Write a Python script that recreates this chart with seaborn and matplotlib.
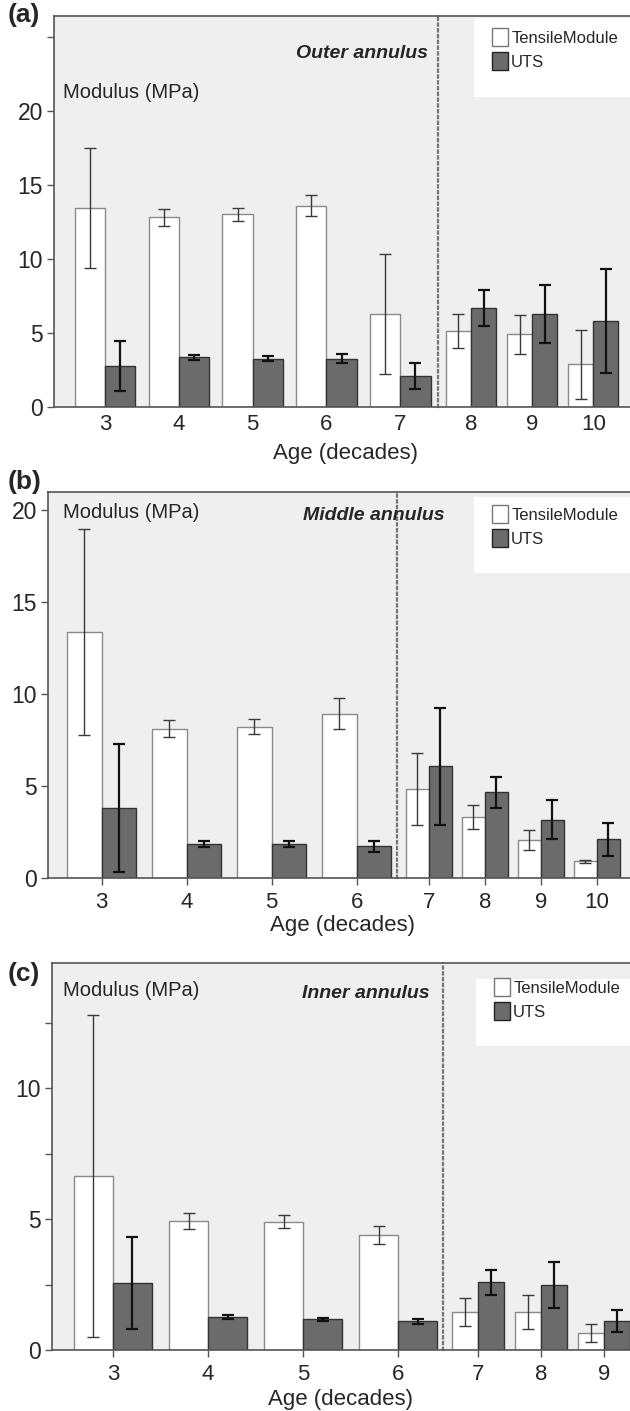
import matplotlib
matplotlib.use('Agg')
import pandas as pd
import matplotlib.pyplot as plt
from matplotlib.patches import Patch, Rectangle
import seaborn as sns

sns.set_style('white')
plt.rcParams['font.family'] = ['Liberation Sans', 'DejaVu Sans']

W, H = 630, 1411

series = ['TensileModule', 'UTS']
bar_colors = {'TensileModule': 'white', 'UTS': '#6b6b6b'}

# (a) outer annulus: ages 3-7 on the left block, 8-10 on the right block
a_ages = ['3', '4', '5', '6', '7', '8', '9', '10']
a_tm = [13.45, 12.8, 13.0, 13.6, 6.3, 5.15, 4.9, 2.87]
a_tm_err = [4.05, 0.57, 0.43, 0.73, 4.05, 1.15, 1.3, 2.3]
a_uts = [2.77, 3.36, 3.27, 3.27, 2.07, 6.69, 6.26, 5.81]
a_uts_err = [1.7, 0.18, 0.14, 0.33, 0.87, 1.2, 1.97, 3.5]

# (b) middle annulus: ages 3-6 left, 7-10 right
b_ages = ['3', '4', '5', '6', '7', '8', '9', '10']
b_tm = [13.4, 8.12, 8.24, 8.93, 4.84, 3.3, 2.05, 0.9]
b_tm_err = [5.6, 0.45, 0.42, 0.84, 1.95, 0.65, 0.55, 0.09]
b_uts = [3.8, 1.85, 1.83, 1.74, 6.07, 4.66, 3.17, 2.1]
b_uts_err = [3.5, 0.14, 0.17, 0.3, 3.2, 0.85, 1.07, 0.88]

# (c) inner annulus: ages 3-6 left, 7-9 right
c_ages = ['3', '4', '5', '6', '7', '8', '9']
c_tm = [6.65, 4.93, 4.9, 4.39, 1.46, 1.46, 0.66]
c_tm_err = [6.15, 0.32, 0.25, 0.33, 0.53, 0.65, 0.34]
c_uts = [2.55, 1.25, 1.17, 1.1, 2.59, 2.48, 1.1]
c_uts_err = [1.75, 0.07, 0.07, 0.09, 0.48, 0.87, 0.41]

panels = [
    dict(tag='(a)', title='Outer annulus', ages=a_ages, tm=a_tm, tm_err=a_tm_err,
         uts=a_uts, uts_err=a_uts_err, split=5, top=16, bot=407, x0=54, xs=438,
         xl_left=(-0.69, 4.51), xl_right=(-0.54, 2.6), ylim=26.4,
         yticks=[0, 5, 10, 15, 20, 25], ylabels=['0', '5', '10', '15', '20', ''],
         xtick_len=0, tag_y=15, title_xy=(428, 53), mod_y=92,
         box=(474, 18, 97), leg=(492, 28), xlab_xy=(345, 453)),
    dict(tag='(b)', title='Middle annulus', ages=b_ages, tm=b_tm, tm_err=b_tm_err,
         uts=b_uts, uts_err=b_uts_err, split=4, top=492, bot=878, x0=48, xs=397,
         xl_left=(-0.63, 3.475), xl_right=(-0.57, 3.59), ylim=21,
         yticks=[0, 5, 10, 15, 20], ylabels=['0', '5', '10', '15', '20'],
         xtick_len=5, tag_y=482, title_xy=(445, 515), mod_y=512,
         box=(474, 497, 573), leg=(492, 505), xlab_xy=(343, 926)),
    dict(tag='(c)', title='Inner annulus', ages=c_ages, tm=c_tm, tm_err=c_tm_err,
         uts=c_uts, uts_err=c_uts_err, split=4, top=963, bot=1350, x0=52, xs=443,
         xl_left=(-0.64, 3.47), xl_right=(-0.56, 2.41), ylim=14.78,
         yticks=[0, 2.5, 5, 7.5, 10, 12.5], ylabels=['0', '', '5', '', '10', ''],
         xtick_len=5, tag_y=974, title_xy=(430, 993), mod_y=990,
         box=(476, 979, 1046), leg=(494, 978), xlab_xy=(341, 1400)),
]

fig = plt.figure(figsize=(W / 100, H / 100), dpi=100)
fig.patch.set_facecolor('white')


def px_rect(xa, xb, yt, yb):
    return [xa / W, 1 - yb / H, (xb - xa) / W, (yb - yt) / H]


def draw_block(ax, ages, tm, tm_err, uts, uts_err, xlim, ylim, xtick_len):
    df = pd.DataFrame({
        'age': ages + ages,
        'series': ['TensileModule'] * len(ages) + ['UTS'] * len(ages),
        'value': tm + uts,
    })
    sns.barplot(data=df, x='age', y='value', hue='series', order=ages,
                hue_order=series, palette=bar_colors, saturation=1, width=0.82,
                errorbar=None, legend=False, ax=ax)
    edge = ['#8a8a8a', '#333333']
    ecol = ['#3a3a3a', '#111111']
    elw = [1.0, 1.6]
    for k, (cont, errs) in enumerate(zip(ax.containers, [tm_err, uts_err])):
        for bar, e in zip(cont, errs):
            bar.set_edgecolor(edge[k])
            bar.set_linewidth(1.0)
            cx = bar.get_x() + bar.get_width() / 2
            ax.errorbar(cx, bar.get_height(), yerr=e, fmt='none', ecolor=ecol[k],
                        elinewidth=elw[k], capsize=4, capthick=elw[k], zorder=5)
    ax.set_facecolor('#efefef')
    ax.set_xlim(*xlim)
    ax.set_ylim(0, ylim)
    ax.set_xlabel('')
    ax.set_ylabel('')
    ax.tick_params(axis='x', length=xtick_len, width=1, color='#555555',
                   labelsize=16, pad=5, direction='out', bottom=True)
    for s in ax.spines.values():
        s.set_color('#555555')
        s.set_linewidth(1.2)
    ax.spines['right'].set_visible(False)


for p in panels:
    n = p['split']
    axl = fig.add_axes(px_rect(p['x0'], p['xs'], p['top'], p['bot']))
    axr = fig.add_axes(px_rect(p['xs'], W, p['top'], p['bot']))
    draw_block(axl, p['ages'][:n], p['tm'][:n], p['tm_err'][:n], p['uts'][:n],
               p['uts_err'][:n], p['xl_left'], p['ylim'], p['xtick_len'])
    draw_block(axr, p['ages'][n:], p['tm'][n:], p['tm_err'][n:], p['uts'][n:],
               p['uts_err'][n:], p['xl_right'], p['ylim'], p['xtick_len'])

    axl.set_yticks(p['yticks'])
    axl.set_yticklabels(p['ylabels'])
    axl.tick_params(axis='y', length=5, width=1, color='#555555', labelsize=16.5,
                    pad=3, direction='out', left=True)
    axr.set_yticks([])
    axr.spines['left'].set_linestyle((0, (1, 1.6)))
    axr.spines['left'].set_color('#777777')
    axr.spines['left'].set_linewidth(1.6)

    # white legend panel in the top-right corner
    bx, by0, by1 = p['box']
    fig.patches.append(Rectangle((bx / W, 1 - by1 / H), (W - bx) / W, (by1 - by0) / H,
                                 transform=fig.transFigure, facecolor='white',
                                 edgecolor='none', zorder=3))
    handles = [Patch(facecolor='white', edgecolor='#777777', label='TensileModule'),
               Patch(facecolor='#6b6b6b', edgecolor='#222222', label='UTS')]
    lg = fig.legend(handles=handles, loc='upper left', frameon=False,
                    bbox_to_anchor=(p['leg'][0] / W, 1 - p['leg'][1] / H),
                    borderpad=0, borderaxespad=0, handlelength=0.95,
                    handleheight=1.3, handletextpad=0.2, labelspacing=0.35,
                    prop={'size': 12})
    lg.set_zorder(4)

    fig.text(8 / W, 1 - p['tag_y'] / H, p['tag'], fontsize=19, fontweight='bold',
             ha='left', va='center')
    fig.text(p['title_xy'][0] / W, 1 - p['title_xy'][1] / H, p['title'],
             fontsize=14, fontweight='bold', fontstyle='italic', ha='right',
             va='center', zorder=6)
    fig.text(63 / W, 1 - p['mod_y'] / H, 'Modulus (MPa)', fontsize=14.5,
             ha='left', va='center')
    fig.text(p['xlab_xy'][0] / W, 1 - p['xlab_xy'][1] / H, 'Age (decades)',
             fontsize=16, ha='center', va='center')

fig.savefig('out.png', dpi=100, facecolor='white')
